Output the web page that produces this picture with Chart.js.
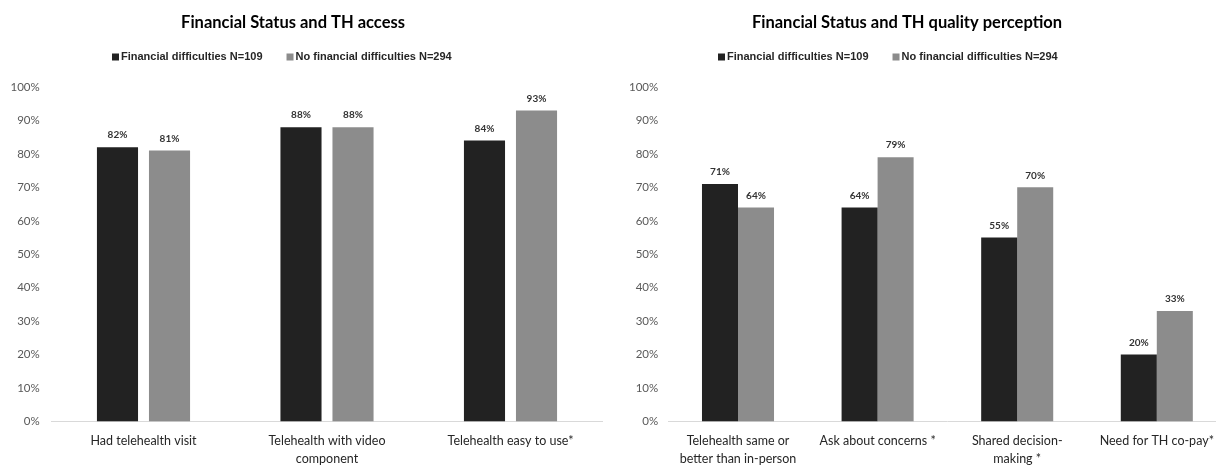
<!DOCTYPE html>
<html>
<head>
<meta charset="utf-8">
<script src="https://cdn.jsdelivr.net/npm/chart.js@4.4.1/dist/chart.umd.min.js"></script>
<style>
  html, body { margin: 0; padding: 0; background: #fff; overflow: hidden; }
  #wrap { position: relative; width: 1216px; height: 465px; overflow: hidden; }
  canvas { position: absolute; top: 0; left: 0; }
</style>
</head>
<body>
<div id="wrap">
  <canvas id="access" width="1216" height="465"></canvas>
  <canvas id="quality" width="1240" height="465"></canvas>
</div>
<script>
// series names shared by both panels
const seriesNames = ["Financial difficulties N=109", "No financial difficulties N=294"];

// left panel: TH access
const accessLabels = [["Had telehealth visit"], ["Telehealth with video", "component"], ["Telehealth easy to use*"]];
const accessFinDiff = [82, 88, 84];
const accessNoFinDiff = [81, 88, 93];

// right panel: TH quality perception
const qualityLabels = [["Telehealth same or", "better than in-person"], ["Ask about concerns *"], ["Shared decision-", "making *"], ["Need for TH co-pay*"]];
const qualityFinDiff = [71, 64, 55, 20];
const qualityNoFinDiff = [64, 79, 70, 33];

// y axis ticks (percent)
const yMin = 0, yMax = 100, yStep = 10;

const darkBar = "#222222";
const greyBar = "#8c8c8c";

// draws title, legend and value labels
const headerPlugin = {
  id: "header",
  afterDatasetsDraw(chart, args, opts) {
    const ctx = chart.ctx;
    ctx.save();

    // value labels above the bars
    ctx.font = "bold 10px Lato";
    ctx.fillStyle = "#333333";
    ctx.textAlign = "center";
    ctx.textBaseline = "middle";
    chart.data.datasets.forEach((ds, i) => {
      chart.getDatasetMeta(i).data.forEach((bar, j) => {
        ctx.fillText(ds.data[j] + "%", bar.x, bar.y - 12);
      });
    });

    // title
    ctx.font = "bold 16.5px Lato";
    ctx.fillStyle = "#000000";
    ctx.fillText(opts.title, opts.titleX, 23);

    // legend
    ctx.font = "bold 11px 'Liberation Sans'";
    ctx.textAlign = "left";
    let x = opts.legendX;
    chart.data.datasets.forEach(ds => {
      ctx.fillStyle = ds.backgroundColor;
      ctx.fillRect(x, 53.5, 7, 7);
      x += 9;
      ctx.fillStyle = "#262626";
      ctx.fillText(ds.label, x, 57);
      x += ctx.measureText(ds.label).width + 24;
    });
    ctx.restore();
  }
};

function makeChart(id, labels, a, b, cfg) {
  return new Chart(document.getElementById(id), {
    type: "bar",
    data: {
      labels: labels,
      datasets: [
        { label: seriesNames[0], data: a, backgroundColor: darkBar,
          categoryPercentage: cfg.catPct, barPercentage: cfg.barPct },
        { label: seriesNames[1], data: b, backgroundColor: greyBar,
          categoryPercentage: cfg.catPct, barPercentage: cfg.barPct }
      ]
    },
    options: {
      responsive: false,
      animation: false,
      devicePixelRatio: 1,
      layout: { padding: { top: 87, left: cfg.padLeft, right: cfg.padRight, bottom: 0 } },
      plugins: {
        legend: { display: false },
        title: { display: false },
        tooltip: { enabled: false },
        header: { title: cfg.title, titleX: cfg.titleX, legendX: cfg.legendX }
      },
      scales: {
        x: {
          grid: { display: false },
          border: { display: true, color: "#d9d9d9", width: 1 },
          ticks: {
            color: "#262626",
            padding: 3,
            maxRotation: 0,
            autoSkip: false,
            font: { family: "Lato", size: 12.5, lineHeight: 1.4 }
          },
          afterFit(scale) { scale.height = 43.5; }
        },
        y: {
          min: yMin,
          max: yMax,
          grid: { display: false, drawTicks: false },
          border: { display: false },
          ticks: {
            stepSize: yStep,
            color: "#595959",
            padding: cfg.tickPad,
            font: { family: "Lato", size: 11.5 },
            callback: v => v + "%"
          },
          afterFit(scale) { scale.width = cfg.yWidth; }
        }
      }
    },
    plugins: [headerPlugin]
  });
}

makeChart("access", accessLabels, accessFinDiff, accessNoFinDiff, {
  title: "Financial Status and TH access",
  titleX: 293, legendX: 112,
  padLeft: 0, yWidth: 51.75, tickPad: 12, padRight: 613.75,
  catPct: 0.567, barPct: 0.79
});

makeChart("quality", qualityLabels, qualityFinDiff, qualityNoFinDiff, {
  title: "Financial Status and TH quality perception",
  titleX: 907, legendX: 718,
  padLeft: 600, yWidth: 68.2, tickPad: 10, padRight: 13.4,
  catPct: 0.516, barPct: 1.0
});
</script>
</body>
</html>
